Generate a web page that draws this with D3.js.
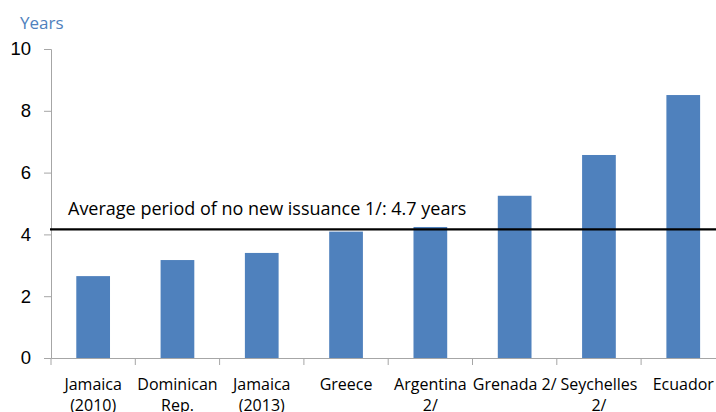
<!DOCTYPE html>
<html>
<head>
<meta charset="utf-8">
<script src="https://cdn.jsdelivr.net/npm/d3@7"></script>
<style>
  body { margin: 0; background: #fff; }
  svg { font-family: "Open Sans", "Noto Sans", sans-serif; }
</style>
</head>
<body>
<div id="graph"></div>
<script>
// ------DATA------
const categories = ["Jamaica (2010)", "Dominican Rep.", "Jamaica (2013)", "Greece", "Argentina 2/", "Grenada 2/", "Seychelles 2/", "Ecuador"]
// tick labels as they wrap in the picture
const tickLabels = [["Jamaica", "(2010)"], ["Dominican", "Rep."], ["Jamaica", "(2013)"], ["Greece"], ["Argentina", "2/"], ["Grenada 2/"], ["Seychelles", "2/"], ["Ecuador"]]
const years = [2.65, 3.17, 3.4, 4.09, 4.24, 5.25, 6.57, 8.51]
const yTicks = [0, 2, 4, 6, 8, 10]
const averageLine = 4.16
const averageLabel = "Average period of no new issuance 1/: 4.7 years"

const width = 716, height = 412
const margin = { top: 49, left: 51, bottom: 54 }
const bandStep = 84.3

const svg = d3.select('#graph').append("svg")
  .attr("width", width).attr("height", height)

const x = d3.scaleBand()
  .domain(categories)
  .range([margin.left, margin.left + bandStep * categories.length])
  .padding(0)

const y = d3.scaleLinear()
  .domain([0, 10])
  .range([height - margin.bottom, margin.top])

const barW = x.bandwidth() * 0.4

// bars
svg.selectAll('rect.bar').data(years).enter()
  .append('rect')
    .attr('class', 'bar')
    .attr('x', (d, i) => x(categories[i]) + (x.bandwidth() - barW) / 2)
    .attr('y', d => y(d))
    .attr('width', barW)
    .attr('height', d => y(0) - y(d))
    .style('fill', '#4F81BD')

// y axis
const yAxis = svg.append('g')
  .attr('transform', `translate(${margin.left},0)`)
  .call(d3.axisLeft(y).tickValues(yTicks).tickSize(7).tickPadding(13))
yAxis.select('.domain').attr('stroke', '#A6A6A6')
yAxis.selectAll('.tick line').attr('stroke', '#A6A6A6')
yAxis.selectAll('.tick text').attr('font-size', 18.5).attr('fill', '#000')

// x axis
const xAxis = svg.append('g')
  .attr('transform', `translate(0,${y(0)})`)
  .call(d3.axisBottom(x).tickSize(0).tickFormat(''))
xAxis.select('.domain').attr('stroke', '#A6A6A6')
xAxis.selectAll('.tick').remove()
// boundary ticks between categories
xAxis.selectAll('line.xt').data(categories).enter()
  .append('line')
    .attr('class', 'xt')
    .attr('x1', d => x(d)).attr('x2', d => x(d))
    .attr('y1', 0).attr('y2', 7)
    .attr('stroke', '#A6A6A6')

// x labels
const lbl = svg.append('g').attr('font-size', 16).attr('fill', '#000')
tickLabels.forEach((lines, i) => {
  const cx = x(categories[i]) + x.bandwidth() / 2
  lines.forEach((t, j) => {
    lbl.append('text')
      .attr('x', cx)
      .attr('y', y(0) + 32 + j * 21)
      .attr('text-anchor', 'middle')
      .text(t)
  })
})

// average line
svg.append('line')
  .attr('x1', margin.left - 1).attr('x2', width)
  .attr('y1', y(averageLine)).attr('y2', y(averageLine))
  .attr('stroke', '#000').attr('stroke-width', 2.2)

svg.append('text')
  .attr('x', 68).attr('y', y(averageLine) - 14)
  .attr('font-size', 18)
  .text(averageLabel)

// unit label
svg.append('text')
  .attr('x', 20).attr('y', 29)
  .attr('font-size', 17)
  .attr('fill', '#4F81BD')
  .text("Years")
</script>
</body>
</html>
